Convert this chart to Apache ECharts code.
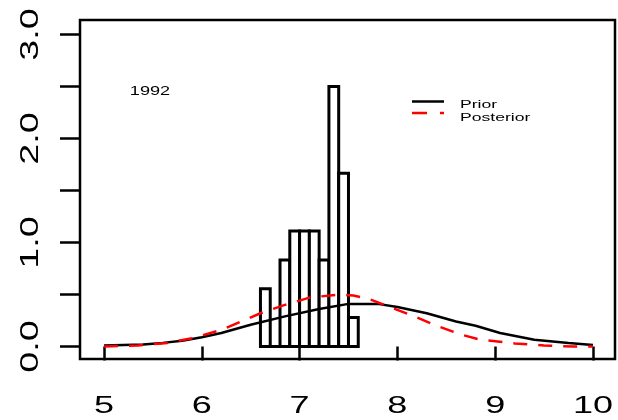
<!DOCTYPE html>
<html>
<head>
<meta charset="utf-8">
<script src="https://cdn.jsdelivr.net/npm/echarts@6/dist/echarts.min.js"></script>
<style>
  html, body { margin: 0; padding: 0; background: #fff; }
  #chart { width: 618px; height: 420px; }
</style>
</head>
<body>
<div id="chart"></div>
<script>
// Axis ticks and labels
const xTicks = [5, 6, 7, 8, 9, 10];
const yTicks = [0, 0.5, 1.0, 1.5, 2.0, 2.5, 3.0];
const yLabelValues = [0, 1.0, 2.0, 3.0];

// Histogram of the 1992 sample (density scale, bins of width 0.1)
const binStart = [6.6, 6.7, 6.8, 6.9, 7.0, 7.1, 7.2, 7.3, 7.4, 7.5];
const binEnd   = [6.7, 6.8, 6.9, 7.0, 7.1, 7.2, 7.3, 7.4, 7.5, 7.6];
const binDensity = [0.556, 0, 0.833, 1.111, 1.111, 1.111, 0.833, 2.5, 1.667, 0.278];

// Prior density curve
const priorX = [5.0, 5.4, 5.6, 5.8, 6.0, 6.2, 6.5, 6.85, 7.2, 7.5, 7.8, 8.0, 8.3, 8.6, 8.8, 9.05, 9.4, 9.75, 10.0];
const priorY = [0.01, 0.02, 0.035, 0.055, 0.09, 0.13, 0.21, 0.29, 0.36, 0.41, 0.41, 0.38, 0.32, 0.24, 0.20, 0.13, 0.065, 0.035, 0.015];

// Posterior density curve
const postX = [5.0, 5.35, 5.65, 5.9, 6.2, 6.4, 6.6, 6.85, 7.1, 7.4, 7.55, 7.7, 7.95, 8.2, 8.4, 8.65, 8.85, 9.2, 9.5, 9.8, 10.0];
const postY = [0.0, 0.01, 0.035, 0.08, 0.16, 0.24, 0.32, 0.40, 0.47, 0.50, 0.49, 0.46, 0.37, 0.28, 0.20, 0.115, 0.065, 0.03, 0.01, 0.0, 0.0];

const yearText = '1992';
const legendNames = ['Prior', 'Posterior'];

const FONT = 'Liberation Sans, Arial, sans-serif';

const chart = echarts.init(document.getElementById('chart'), null, { renderer: 'canvas' });

const bins = binStart.map((s, i) => [s, binEnd[i], binDensity[i]]);
const prior = priorX.map((x, i) => [x, priorY[i]]);
const post = postX.map((x, i) => [x, postY[i]]);

chart.setOption({
  animation: false,
  backgroundColor: '#fff',
  grid: {
    left: 80, right: 3, top: 20, bottom: 61,
    show: true, borderColor: '#000', borderWidth: 2.5, backgroundColor: 'transparent'
  },
  xAxis: {
    type: 'value',
    min: 4.755, max: 10.225,
    axisLine: { show: false },
    splitLine: { show: false },
    axisTick: {
      show: true, inside: false, length: 14,
      customValues: xTicks,
      lineStyle: { color: '#000', width: 2.5 }
    },
    axisLabel: { show: false }
  },
  yAxis: {
    type: 'value',
    min: -0.12, max: 3.14,
    axisLine: { show: false },
    splitLine: { show: false },
    axisTick: {
      show: true, inside: false, length: 20,
      customValues: yTicks,
      lineStyle: { color: '#000', width: 2.5 }
    },
    axisLabel: { show: false }
  },
  series: [
    {
      type: 'custom',
      name: 'hist',
      data: bins,
      encode: { x: [0, 1], y: 2 },
      z: 2,
      renderItem: function (params, api) {
        const x0 = api.value(0), x1 = api.value(1), h = api.value(2);
        const b = api.coord([x0, 0]);
        const t = api.coord([x1, h]);
        return {
          type: 'polygon',
          shape: { points: [[b[0], b[1]], [t[0], b[1]], [t[0], t[1]], [b[0], t[1]]] },
          style: { fill: '#fff', stroke: '#000', lineWidth: 3, lineJoin: 'miter' }
        };
      }
    },
    {
      type: 'line',
      name: 'Prior',
      data: prior,
      z: 3,
      symbol: 'none',
      smooth: false,
      lineStyle: { color: '#000', width: 2.5 }
    },
    {
      type: 'line',
      name: 'Posterior',
      data: post,
      z: 4,
      symbol: 'none',
      smooth: false,
      lineStyle: { color: '#ff0000', width: 2.5, type: [14, 11] }
    }
  ]
});

const centerStyle = { textAlign: 'center', textVerticalAlign: 'middle', align: 'center', verticalAlign: 'middle' };
const leftStyle = { textAlign: 'left', textVerticalAlign: 'middle', align: 'left', verticalAlign: 'middle' };

// Wide tick labels on the x axis, placed through the axis scale
const graphics = xTicks.map(v => {
  const p = chart.convertToPixel({ gridIndex: 0 }, [v, 0]);
  return {
    type: 'text',
    x: p[0], y: 406.5,
    scaleX: 1.5,
    style: Object.assign({ text: String(v), fill: '#000', fontSize: 24, fontFamily: FONT }, centerStyle)
  };
});

// Rotated, wide tick labels on the y axis
yLabelValues.forEach(v => {
  const p = chart.convertToPixel({ gridIndex: 0 }, [5, v]);
  graphics.push({
    type: 'text',
    x: 31, y: p[1],
    rotation: Math.PI / 2,
    scaleX: 1.45,
    style: Object.assign({ text: v.toFixed(1), fill: '#000', fontSize: 26, fontFamily: FONT }, centerStyle)
  });
});

// Year tag and legend
graphics.push({
  type: 'text', x: 150, y: 91.5, scaleX: 1.45,
  style: Object.assign({ text: yearText, fill: '#000', fontSize: 12.5, fontFamily: FONT }, centerStyle)
});
graphics.push({
  type: 'line', shape: { x1: 412, y1: 101.5, x2: 444, y2: 101.5 },
  style: { stroke: '#000', lineWidth: 2.5 }
});
graphics.push({
  type: 'line', shape: { x1: 412, y1: 113, x2: 444, y2: 113 },
  style: { stroke: '#ff0000', lineWidth: 2.5, lineDash: [15, 13] }
});
graphics.push({
  type: 'text', x: 460, y: 105, scaleX: 1.6,
  style: Object.assign({ text: legendNames[0], fill: '#000', fontSize: 11, fontFamily: FONT }, leftStyle)
});
graphics.push({
  type: 'text', x: 460, y: 118, scaleX: 1.6,
  style: Object.assign({ text: legendNames[1], fill: '#000', fontSize: 11, fontFamily: FONT }, leftStyle)
});

chart.setOption({ graphic: graphics });
</script>
</body>
</html>
